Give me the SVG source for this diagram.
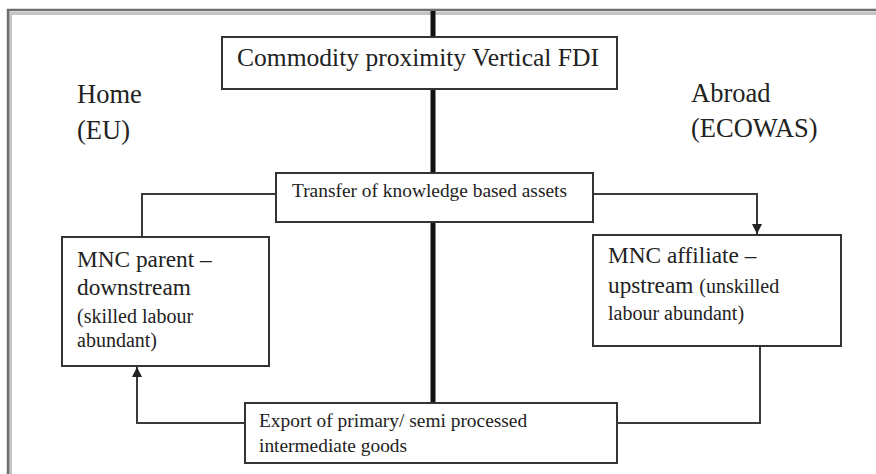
<svg xmlns="http://www.w3.org/2000/svg" width="876" height="474" viewBox="0 0 876 474">
<style>
.box{fill:#fff;stroke:#333;stroke-width:2}
.conn{fill:none;stroke:#3a3a3a;stroke-width:2}
.thick{fill:none;stroke:#111;stroke-width:5}
text{font-family:"Liberation Serif","Times New Roman",serif;fill:#222}
.big{font-size:26.5px}
.t1{font-size:23.3px}
.t2{font-size:20px}
.t3{font-size:19.4px}
</style>
<defs>
<marker id="arr" viewBox="0 0 10 10" refX="10" refY="5" markerWidth="5" markerHeight="5" orient="auto" markerUnits="strokeWidth">
<path d="M0,0 L10,5 L0,10 z" fill="#222"/>
</marker>
</defs>
<rect width="876" height="474" fill="#fff"/>
<g id="frame">
<path d="M10.5,474 V13.5 H876" fill="none" stroke="#c4c4c4" stroke-width="3"/>
<path d="M8,474 V10 H876" fill="none" stroke="#6e6e6e" stroke-width="2.5"/>
</g>
<g id="connectors">
<line class="thick" x1="433" y1="11" x2="433" y2="37"/>
<line class="thick" x1="433" y1="89" x2="433" y2="173"/>
<line class="thick" x1="433" y1="222" x2="433" y2="403"/>
<path class="conn" d="M276,194 H142 V237"/>
<path class="conn" d="M593,194 H757 V234" marker-end="url(#arr)"/>
<path class="conn" d="M760,346 V423 H617"/>
<path class="conn" d="M245,423 H137 V367" marker-end="url(#arr)"/>
</g>
<g id="commodity">
<rect class="box" x="222" y="37" width="395" height="52"/>
<text x="237" y="66" style="font-size:24.5px" textLength="362" lengthAdjust="spacingAndGlyphs">Commodity proximity Vertical FDI</text>
</g>
<g id="home">
<text class="big" x="77" y="103">Home</text>
<text class="big" x="77" y="139">(EU)</text>
</g>
<g id="abroad">
<text class="big" x="691" y="102">Abroad</text>
<text class="big" x="691" y="137">(ECOWAS)</text>
</g>
<g id="transfer">
<rect class="box" x="276" y="173" width="317" height="49"/>
<text class="t3" x="292" y="197">Transfer of knowledge based assets</text>
</g>
<g id="parent">
<rect class="box" x="62" y="237" width="207" height="129"/>
<text class="t1" x="77" y="267">MNC parent –</text>
<text class="t1" x="77" y="295">downstream</text>
<text class="t2" x="77" y="323">(skilled labour</text>
<text class="t2" x="77" y="347">abundant)</text>
</g>
<g id="affiliate">
<rect class="box" x="593" y="235" width="248" height="111"/>
<text class="t1" x="608" y="263">MNC affiliate –</text>
<text x="608" y="293"><tspan class="t1">upstream </tspan><tspan class="t2">(unskilled</tspan></text>
<text class="t2" x="608" y="320">labour abundant)</text>
</g>
<g id="export">
<rect class="box" x="245" y="403" width="372" height="60"/>
<text class="t3" x="259" y="427">Export of primary/ semi processed</text>
<text class="t3" x="259" y="452">intermediate goods</text>
</g>
</svg>
